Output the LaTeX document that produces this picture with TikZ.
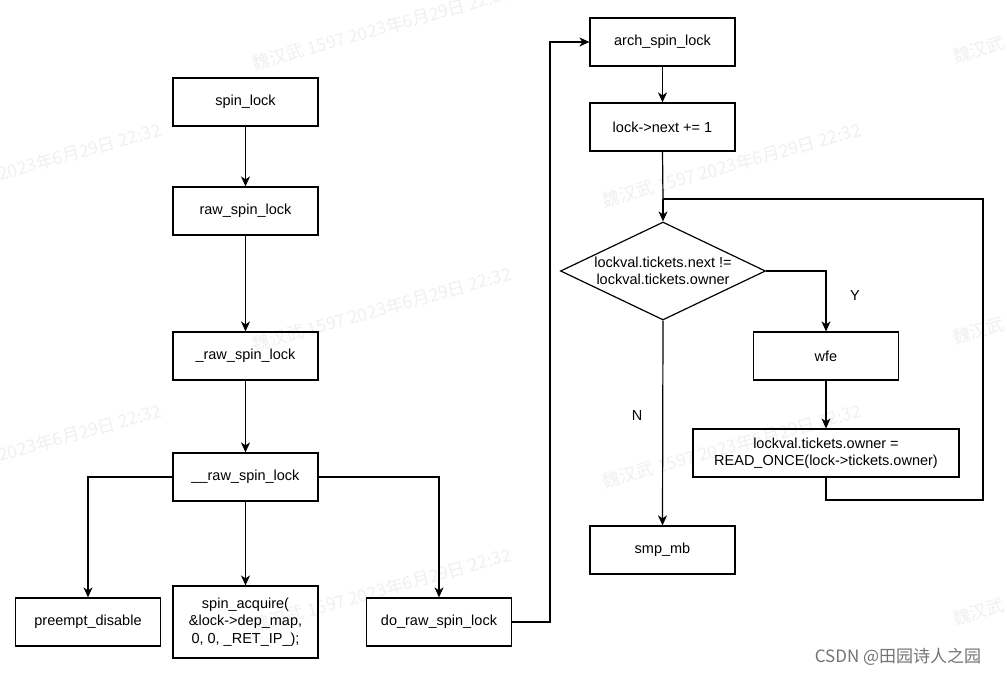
\documentclass[tikz,border=0pt]{standalone}
\usepackage{fontspec}
\setmainfont{Liberation Sans}
\newfontfamily\cjk{Noto Sans CJK SC}
\usetikzlibrary{shapes.geometric,arrows.meta}
\begin{document}
\begin{tikzpicture}[x=1pt,y=-1pt,
  every node/.style={font=\fontsize{14.5}{17.5}\selectfont},
  box/.style={draw, line width=1.2pt, rectangle, minimum width=145pt, minimum height=48pt, inner sep=0pt, align=center},
  cond/.style={draw, line width=1.2pt, diamond, aspect=2.09, minimum width=205pt, minimum height=98pt, inner sep=0pt},
  arr/.style={line width=1.2pt, -{Stealth[length=10pt,width=9pt,inset=3pt]}},
  ln/.style={line width=1.2pt},
  wm/.style={font=\cjk\fontsize{17.5}{17.5}\selectfont, text=black!6, rotate=15.5, inner sep=0pt},
  lbl/.style={inner sep=0pt}]
\useasboundingbox (0,0) rectangle (1007,676);
\fill[white] (0,0) rectangle (1007,676);
% watermarks
\foreach \wx/\wy in {382/28, 382/309, 382/590, 732/165, 732/446, 32/165, 32/446, 1082/21, 1082/302, 1082/583}{
  \node[wm] at (\wx,\wy) {魏汉武 1597 2023年6月29日 22:32};
}
% left column
\node[box] (s1) at (245.5,102) {spin\_lock};
\node[box] (s2) at (245.5,211) {raw\_spin\_lock};
\node[box] (s3) at (245.5,356) {\_raw\_spin\_lock};
\node[box] (s4) at (245.5,477) {\_\_raw\_spin\_lock};
\node[box] (pd) at (88,622) {preempt\_disable};
\node[box, minimum height=72pt] (sa) at (245.5,622) {spin\_acquire(\\\&lock->dep\_map,\\0, 0, \_RET\_IP\_);};
\node[box] (dr) at (439,622) {do\_raw\_spin\_lock};
% right column
\node[box] (ar) at (662.5,42) {arch\_spin\_lock};
\node[box] (nx) at (662.5,127) {lock->next += 1};
\node[cond] (dia) at (663,271) {};
\node[align=center, inner sep=0pt] at (dia) {lockval.tickets.next !=\\lockval.tickets.owner};
\node[box] (wfe) at (826,356) {wfe};
\node[box, minimum width=266pt] (ro) at (826,453) {lockval.tickets.owner =\\READ\_ONCE(lock->tickets.owner)};
\node[box] (mb) at (662.5,550) {smp\_mb};
\coordinate (join) at (663,199);
\coordinate (loopB) at (983,500);
\coordinate (bend) at (550,622);
% connectors
\draw[arr] (s1) -- (s2);
\draw[arr] (s2) -- (s3);
\draw[arr] (s3) -- (s4);
\draw[arr] (s4.west) -| (pd.north);
\draw[arr] (s4) -- (sa);
\draw[arr] (s4.east) -| (dr.north);
\draw[arr] (dr.east) -- (bend) |- (ar.west);
\draw[arr] (ar) -- (nx);
\draw[ln] (nx.south) -- (join);
\draw[arr] (join) -- (dia.north);
\draw[arr] (dia.east) -| (wfe.north);
\draw[arr] (wfe) -- (ro);
\draw[ln] (ro.south) |- (loopB) |- (join);
\draw[arr] (dia.south) -- (mb.north);
\node[lbl] (ly) at (855,296) {Y};
\node[lbl] (ln) at (637,416) {N};
% footer
\node[font=\cjk\fontsize{17}{17}\selectfont, text=black!55, inner sep=0pt] (csdn) at (898,657) {CSDN @田园诗人之园};
\end{tikzpicture}
\end{document}
